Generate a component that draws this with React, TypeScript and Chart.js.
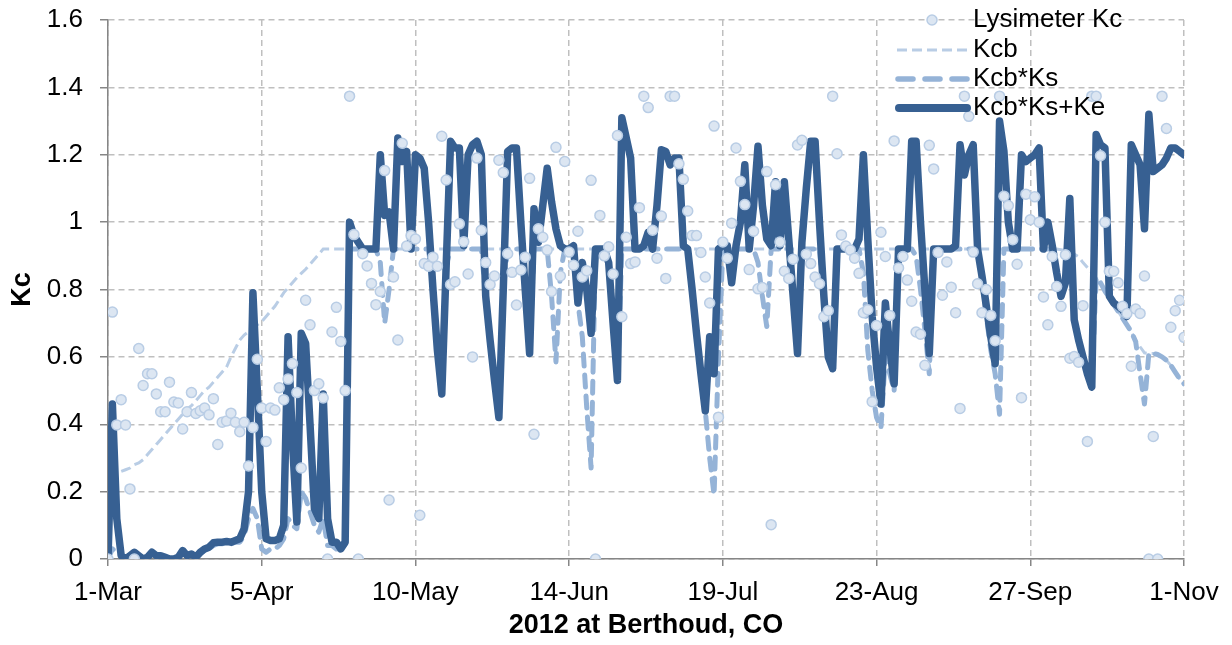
import React, { useEffect, useRef } from "react";
import { Chart, registerables } from "chart.js";

Chart.register(...registerables);

// Day 0 = 1-Mar-2012, one value per day through 1-Nov (day 245)
const tickDays = [0, 35, 70, 105, 140, 175, 210, 245];
const tickLabels = ["1-Mar", "5-Apr", "10-May", "14-Jun", "19-Jul", "23-Aug", "27-Sep", "1-Nov"];
const seriesNames = ["Lysimeter Kc", "Kcb", "Kcb*Ks", "Kcb*Ks+Ke"];

const lysimeterKc = [
  0, 0.733, 0.398, 0.473, 0.398, 0.208, 0, 0.625, 0.515, 0.55,
  0.55, 0.49, 0.437, 0.437, 0.525, 0.466, 0.463, 0.386, 0.437, 0.494,
  0.432, 0.44, 0.448, 0.428, 0.476, 0.34, 0.406, 0.41, 0.433, 0.406,
  0.378, 0.406, 0.276, 0.39, 0.593, 0.448, 0.349, 0.448, 0.442, 0.508,
  0.473, 0.534, 0.58, 0.494, 0.27, 0.768, 0.695, 0.5, 0.52, 0.478,
  0, 0.674, 0.747, 0.646, 0.5, 1.374, 0.963, 0, 0.906, 0.87,
  0.818, 0.755, 0.794, 1.153, 0.175, 0.837, 0.65, 1.234, 0.929, 0.96,
  0.95, 0.13, 0.877, 0.869, 0.896, 0.869, 1.255, 1.125, 0.815, 0.823,
  0.995, 0.942, 0.846, 0.6, 1.19, 0.976, 0.88, 0.815, 0.84, 1.184,
  1.147, 0.906, 0.851, 0.754, 0.858, 0.896, 1.13, 0.37, 0.98, 0.955,
  0.917, 0.794, 1.222, 0.84, 1.18, 0.911, 0.872, 0.973, 0.837, 0.856,
  1.124, 0, 1.02, 0.9, 0.927, 0.846, 1.257, 0.719, 0.955, 0.877,
  0.882, 1.043, 1.374, 1.34, 0.976, 0.893, 1.018, 0.833, 1.374, 1.374,
  1.173, 1.127, 1.033, 0.96, 0.96, 0.91, 0.837, 0.76, 1.285, 0.421,
  0.941, 0.893, 0.997, 1.22, 1.121, 1.052, 0.859, 0.973, 0.802, 0.806,
  1.15, 0.102, 1.111, 0.941, 0.854, 0.833, 0.89, 1.229, 1.243, 0.905,
  0.877, 0.837, 0.817, 0.719, 0.737, 1.374, 1.203, 0.962, 0.929, 0.917,
  0.893, 0.848, 0.731, 0.74, 0.467, 0.693, 0.97, 0.898, 0.723, 1.241,
  0.864, 0.898, 0.828, 0.765, 0.674, 0.667, 0.575, 1.228, 1.158, 0.91,
  0.783, 0.882, 0.807, 0.731, 0.447, 1.374, 1.314, 0.911, 0.817, 0.731,
  0.8, 0.723, 0.648, 1.374, 1.077, 1.049, 0.948, 0.875, 0.479, 1.083,
  1.007, 1.075, 1.0, 0.778, 0.695, 0.898, 0.809, 0.75, 0.903, 0.596,
  0.601, 0.584, 0.752, 0.349, 1.374, 1.374, 1.197, 1.0, 0.854, 0.854,
  0.82, 0.75, 0.729, 0.572, 0.742, 0.729, 0.84, 0, 0.364, 0,
  1.374, 1.278, 0.688, 0.737, 0.768, 0.658,
];

const kcb = [
  0.24, 0.245, 0.25, 0.26, 0.265, 0.27, 0.28, 0.285, 0.295, 0.31,
  0.325, 0.34, 0.355, 0.37, 0.385, 0.4, 0.415, 0.43, 0.445, 0.455,
  0.47, 0.485, 0.5, 0.51, 0.525, 0.54, 0.555, 0.57, 0.6, 0.625,
  0.65, 0.665, 0.675, 0.685, 0.695, 0.705, 0.72, 0.735, 0.75, 0.77,
  0.79, 0.805, 0.82, 0.835, 0.848, 0.86, 0.875, 0.89, 0.905, 0.92,
  0.92, 0.92, 0.92, 0.92, 0.92, 0.92, 0.92, 0.92, 0.92, 0.92,
  0.92, 0.92, 0.92, 0.92, 0.92, 0.92, 0.92, 0.92, 0.92, 0.92,
  0.92, 0.92, 0.92, 0.92, 0.92, 0.92, 0.92, 0.92, 0.92, 0.92,
  0.92, 0.92, 0.92, 0.92, 0.92, 0.92, 0.92, 0.92, 0.92, 0.92,
  0.92, 0.92, 0.92, 0.92, 0.92, 0.92, 0.92, 0.92, 0.92, 0.92,
  0.92, 0.92, 0.92, 0.92, 0.92, 0.92, 0.92, 0.92, 0.92, 0.92,
  0.92, 0.92, 0.92, 0.92, 0.92, 0.92, 0.92, 0.92, 0.92, 0.92,
  0.92, 0.92, 0.92, 0.92, 0.92, 0.92, 0.92, 0.92, 0.92, 0.92,
  0.92, 0.92, 0.92, 0.92, 0.92, 0.92, 0.92, 0.92, 0.92, 0.92,
  0.92, 0.92, 0.92, 0.92, 0.92, 0.92, 0.92, 0.92, 0.92, 0.92,
  0.92, 0.92, 0.92, 0.92, 0.92, 0.92, 0.92, 0.92, 0.92, 0.92,
  0.92, 0.92, 0.92, 0.92, 0.92, 0.92, 0.92, 0.92, 0.92, 0.92,
  0.92, 0.92, 0.92, 0.92, 0.92, 0.92, 0.92, 0.92, 0.92, 0.92,
  0.92, 0.92, 0.92, 0.92, 0.92, 0.92, 0.92, 0.92, 0.92, 0.92,
  0.92, 0.92, 0.92, 0.92, 0.92, 0.92, 0.92, 0.92, 0.92, 0.92,
  0.92, 0.92, 0.92, 0.92, 0.92, 0.92, 0.92, 0.92, 0.92, 0.92,
  0.92, 0.92, 0.92, 0.92, 0.92, 0.92, 0.92, 0.918, 0.915, 0.91,
  0.905, 0.897, 0.88, 0.865, 0.85, 0.835, 0.82, 0.795, 0.775, 0.755,
  0.735, 0.715, 0.695, 0.675, 0.65, 0.63, 0.612, 0.61, 0.61, 0.607,
  0.6, 0.59, 0.575, 0.555, 0.535, 0.52,
];

const kcbKs = [
  0, 0.03, 0.02, 0.01, 0, 0.01, 0.015, 0.01, 0, 0.005,
  0.015, 0.01, 0.01, 0.005, 0, 0, 0.005, 0.02, 0.01, 0.01,
  0.005, 0.015, 0.025, 0.03, 0.04, 0.045, 0.045, 0.045, 0.045, 0.05,
  0.05, 0.07, 0.12, 0.15, 0.12, 0.03, 0.02, 0.03, 0.03, 0.04,
  0.06, 0.12, 0.1, 0.09, 0.2, 0.18, 0.14, 0.1, 0.08, 0.12,
  0.04, 0.04, 0.03, 0.03, 0.04, 0.92, 0.92, 0.92, 0.92, 0.92,
  0.92, 0.92, 0.88, 0.7, 0.8, 0.92, 0.92, 0.92, 0.92, 0.92,
  0.92, 0.92, 0.92, 0.92, 0.8, 0.62, 0.49, 0.87, 0.92, 0.92,
  0.92, 0.92, 0.92, 0.92, 0.92, 0.92, 0.78, 0.65, 0.53, 0.42,
  0.8, 0.92, 0.92, 0.92, 0.92, 0.8, 0.61, 0.92, 0.92, 0.92,
  0.92, 0.78, 0.585, 0.85, 0.92, 0.92, 0.92, 0.76, 0.66, 0.45,
  0.27, 0.92, 0.92, 0.92, 0.88, 0.7, 0.53, 0.92, 0.92, 0.92,
  0.92, 0.92, 0.92, 0.92, 0.92, 0.92, 0.92, 0.92, 0.92, 0.92,
  0.92, 0.92, 0.92, 0.8, 0.67, 0.55, 0.44, 0.3, 0.19, 0.6,
  0.92, 0.92, 0.82, 0.92, 0.92, 0.92, 0.92, 0.92, 0.88, 0.78,
  0.69, 0.92, 0.92, 0.92, 0.92, 0.92, 0.78, 0.61, 0.92, 0.92,
  0.92, 0.92, 0.92, 0.78, 0.6, 0.565, 0.92, 0.92, 0.92, 0.92,
  0.92, 0.92, 0.85, 0.62, 0.5, 0.42, 0.39, 0.6, 0.55, 0.5,
  0.92, 0.92, 0.92, 0.92, 0.9, 0.8, 0.68, 0.55, 0.92, 0.92,
  0.92, 0.92, 0.92, 0.92, 0.92, 0.92, 0.92, 0.92, 0.92, 0.84,
  0.72, 0.62, 0.55, 0.43, 0.92, 0.92, 0.92, 0.92, 0.92, 0.92,
  0.92, 0.92, 0.92, 0.92, 0.92, 0.92, 0.85, 0.78, 0.82, 0.91,
  0.71, 0.65, 0.6, 0.55, 0.51, 0.835, 0.82, 0.795, 0.775, 0.755,
  0.735, 0.715, 0.695, 0.675, 0.645, 0.55, 0.46, 0.61, 0.61, 0.607,
  0.6, 0.59, 0.575, 0.555, 0.535, 0.52,
];

const kcbKsKe = [
  0, 0.46, 0.12, 0.01, 0, 0.01, 0.02, 0.01, 0, 0.005,
  0.02, 0.01, 0.01, 0.005, 0, 0, 0.005, 0.025, 0.01, 0.015,
  0.005, 0.02, 0.03, 0.035, 0.048, 0.05, 0.05, 0.052, 0.05, 0.055,
  0.06, 0.09, 0.2, 0.79, 0.5, 0.2, 0.06, 0.055, 0.055, 0.06,
  0.1, 0.66, 0.35, 0.11, 0.67, 0.64, 0.4, 0.15, 0.12, 0.49,
  0.12, 0.05, 0.05, 0.03, 0.05, 1.0, 0.96, 0.94, 0.92, 0.92,
  0.92, 0.92, 1.2, 1.02, 1.03, 0.92, 1.25, 1.18, 1.21, 0.92,
  1.2, 1.19, 1.16, 1.0, 0.8, 0.62, 0.49, 0.87, 1.24, 1.22,
  1.22, 0.93, 1.2, 1.23, 1.24, 1.2, 0.78, 0.65, 0.53, 0.42,
  0.8, 1.21, 1.22, 1.22, 1.0, 0.8, 0.61, 1.04, 0.94, 1.05,
  1.16, 1.06, 0.98, 0.93, 0.92, 0.92, 0.93, 0.76, 0.88, 0.8,
  0.67, 0.92, 0.92, 0.92, 0.88, 0.7, 0.53, 1.31, 1.25, 1.19,
  0.92, 0.92, 0.93, 0.97, 0.92, 1.05, 1.215, 1.21, 1.17, 1.19,
  1.19, 0.93, 0.92, 0.8, 0.67, 0.55, 0.44, 0.66, 0.55, 0.92,
  0.93, 0.93, 0.82, 0.93, 1.0, 1.17, 0.92, 1.05, 1.225, 1.05,
  0.95, 0.93, 1.12, 0.93, 1.12, 0.95, 0.78, 0.61, 0.94, 1.1,
  1.24, 1.24, 1.0, 0.78, 0.6, 0.565, 0.92, 0.92, 0.92, 0.92,
  0.92, 0.95, 1.2, 0.95, 0.72, 0.57, 0.46, 0.76, 0.63, 0.52,
  0.92, 0.92, 0.92, 1.24, 1.24, 1.0, 0.8, 0.61, 0.92, 0.92,
  0.92, 0.92, 0.92, 0.93, 1.23, 1.14, 1.2, 1.23, 0.92, 0.84,
  0.75, 0.66, 0.58, 1.3, 1.21, 1.0, 0.92, 0.92, 1.2, 1.18,
  1.19, 1.2, 1.22, 0.92, 1.0, 0.93, 0.85, 0.78, 0.82, 1.07,
  0.71, 0.65, 0.6, 0.55, 0.51, 1.26, 1.23, 1.22, 0.78, 0.76,
  0.75, 0.74, 0.72, 1.23, 1.2, 1.17, 0.98, 1.32, 1.15, 1.16,
  1.17, 1.19, 1.22, 1.22, 1.21, 1.2,
];

const FONT = '"Liberation Sans", Arial, Helvetica, sans-serif';
const C_MAIN = "#376092";
const C_KS = "#95B3D7";
const C_KCB = "#B9CDE5";
const C_PT_FILL = "#DCE6F2";
const C_PT_BORDER = "#B9CDE5";
const C_GRID = "#BFBFBF";
const C_AXIS = "#868686";

const toPoints = (vals: number[]) => vals.map((v, i) => ({ x: i, y: v }));

const legendPlugin = {
  id: "insideLegend",
  afterDatasetsDraw(chart: any) {
    const ctx = chart.ctx as CanvasRenderingContext2D;
    const rows = [20, 50, 79, 108];
    const sx0 = 896;
    const sx1 = 968;
    const tx = 973;
    ctx.save();
    ctx.beginPath();
    ctx.arc((sx0 + sx1) / 2, rows[0], 5, 0, Math.PI * 2);
    ctx.fillStyle = C_PT_FILL;
    ctx.fill();
    ctx.lineWidth = 1.5;
    ctx.strokeStyle = C_PT_BORDER;
    ctx.stroke();
    ctx.beginPath();
    ctx.setLineDash([10, 5]);
    ctx.lineWidth = 3;
    ctx.strokeStyle = C_KCB;
    ctx.moveTo(sx0 + 1, rows[1]);
    ctx.lineTo(sx1, rows[1]);
    ctx.stroke();
    ctx.beginPath();
    ctx.setLineDash([15, 12]);
    ctx.lineCap = "round";
    ctx.lineWidth = 5.5;
    ctx.strokeStyle = C_KS;
    ctx.moveTo(sx0 + 2, rows[2]);
    ctx.lineTo(sx1, rows[2]);
    ctx.stroke();
    ctx.beginPath();
    ctx.setLineDash([]);
    ctx.lineWidth = 8;
    ctx.strokeStyle = C_MAIN;
    ctx.moveTo(sx0 + 3, rows[3]);
    ctx.lineTo(sx1 - 1, rows[3]);
    ctx.stroke();
    ctx.fillStyle = "#000";
    ctx.font = `26px ${FONT}`;
    ctx.textBaseline = "middle";
    ctx.textAlign = "left";
    seriesNames.forEach((name, i) => ctx.fillText(name, tx, rows[i]));
    ctx.restore();
  },
};

export default function App() {
  const canvasRef = useRef<HTMLCanvasElement | null>(null);

  useEffect(() => {
    document.body.style.margin = "0";
    const canvas = canvasRef.current;
    if (!canvas) return;
    const chart = new Chart(canvas, {
      type: "line",
      data: {
        datasets: [
          {
            label: seriesNames[0],
            data: toPoints(lysimeterKc),
            showLine: false,
            pointRadius: 5,
            pointBackgroundColor: C_PT_FILL,
            pointBorderColor: C_PT_BORDER,
            pointBorderWidth: 1.5,
            order: 0,
          },
          {
            label: seriesNames[3],
            data: toPoints(kcbKsKe),
            borderColor: C_MAIN,
            borderWidth: 7.5,
            borderJoinStyle: "round",
            borderCapStyle: "round",
            pointRadius: 0,
            tension: 0,
            order: 1,
          },
          {
            label: seriesNames[2],
            data: toPoints(kcbKs),
            borderColor: C_KS,
            borderWidth: 5,
            borderDash: [12, 9],
            borderCapStyle: "round",
            borderJoinStyle: "round",
            pointRadius: 0,
            tension: 0,
            order: 2,
          },
          {
            label: seriesNames[1],
            data: toPoints(kcb),
            borderColor: C_KCB,
            borderWidth: 3,
            borderDash: [10, 5],
            pointRadius: 0,
            tension: 0,
            order: 3,
          },
        ],
      },
      options: {
        responsive: false,
        animation: false,
        devicePixelRatio: 1,
        layout: { padding: { top: 20, right: 48, left: 0, bottom: 0 } },
        plugins: {
          legend: { display: false },
          tooltip: { enabled: false },
        },
        scales: {
          x: {
            type: "linear",
            min: 0,
            max: 245,
            afterBuildTicks: (scale: any) => {
              scale.ticks = tickDays.map((v) => ({ value: v }));
            },
            afterFit: (scale: any) => {
              scale.height = 86;
              scale.paddingLeft = 0;
              scale.paddingRight = 0;
            },
            ticks: {
              autoSkip: false,
              maxRotation: 0,
              padding: 11,
              color: "#000",
              font: { family: FONT, size: 26 },
              callback: (v: any) => tickLabels[tickDays.indexOf(Number(v))] ?? "",
            },
            grid: {
              color: C_GRID,
              lineWidth: 1.5,
              tickLength: 7,
              tickColor: C_AXIS,
              tickWidth: 1.5,
            },
            border: { color: C_AXIS, width: 1.5, dash: [6, 4] },
            title: {
              display: true,
              text: "2012 at Berthoud, CO",
              color: "#000",
              font: { family: FONT, size: 27, weight: "bold" },
              padding: { top: 0, bottom: 3 },
            },
          },
          y: {
            type: "linear",
            min: 0,
            max: 1.6,
            afterFit: (scale: any) => {
              scale.width = 108;
              scale.paddingTop = 0;
              scale.paddingBottom = 0;
            },
            ticks: {
              stepSize: 0.2,
              padding: 17,
              color: "#000",
              font: { family: FONT, size: 26 },
              callback: (v: any) => String(Math.round(Number(v) * 10) / 10),
            },
            grid: {
              color: C_GRID,
              lineWidth: 1.5,
              tickLength: 8,
              tickColor: C_AXIS,
              tickWidth: 1.5,
            },
            border: { color: C_AXIS, width: 1.5, dash: [6, 4] },
            title: {
              display: true,
              text: "Kc",
              color: "#000",
              font: { family: FONT, size: 27, weight: "bold" },
              padding: { top: 6, bottom: 0 },
            },
          },
        },
      },
      plugins: [legendPlugin],
    } as any);
    return () => chart.destroy();
  }, []);

  return (
    <div style={{ width: 1232, height: 645, overflow: "hidden", background: "#fff" }}>
      <canvas ref={canvasRef} width={1232} height={645} style={{ display: "block" }} />
    </div>
  );
}
